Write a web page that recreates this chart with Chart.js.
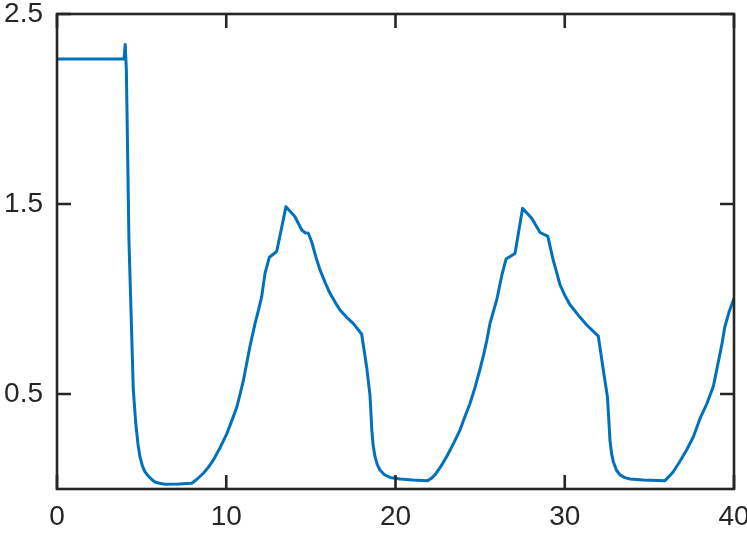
<!DOCTYPE html>
<html>
<head>
<meta charset="utf-8">
<script src="https://cdn.jsdelivr.net/npm/chart.js@4.4.0/dist/chart.umd.min.js"></script>
<style>
  html, body { margin: 0; padding: 0; background: #fff; }
</style>
</head>
<body>
<canvas id="lineChart" width="747" height="534"></canvas>
<script>
// values
const xs = [0, 3.96, 4.03, 4.1, 4.25, 4.51, 4.65, 4.78, 4.9, 5.05, 5.2, 5.38, 5.6, 5.79, 6.05, 6.38, 7.2, 7.96,
  8.25, 8.65, 8.95, 9.24, 9.65, 10.03, 10.33, 10.62, 10.82, 11.01, 11.4, 11.7, 11.9, 12.09, 12.29, 12.55, 12.98, 13.53,
  14.06, 14.46, 14.65, 14.85, 15.05, 15.3, 15.54, 15.85, 16.13, 16.42, 16.72, 17.1, 17.5, 18.0,
  18.3, 18.49, 18.55, 18.6, 18.68, 18.79, 18.92, 19.08, 19.35, 19.67, 20.27, 21.0, 21.9,
  22.1, 22.33, 22.65, 23.02, 23.4, 23.81, 24.1, 24.4, 24.7, 24.99, 25.2, 25.39, 25.58, 25.98, 26.27, 26.53, 27.06, 27.51,
  28.05, 28.54, 28.83, 29.0, 29.15, 29.32, 29.52, 29.72, 30.0, 30.31, 30.8, 31.3, 31.98,
  32.28, 32.52, 32.6, 32.67, 32.76, 32.87, 33.05, 33.26, 33.55, 33.86, 34.64, 35.92,
  36.15, 36.41, 36.8, 37.2, 37.6, 37.99, 38.4, 38.78, 39.1, 39.3, 39.45, 39.7, 40];
const ys = [2.263, 2.263, 2.34, 2.2, 1.31, 0.52, 0.35, 0.24, 0.17, 0.12, 0.09, 0.07, 0.05, 0.037, 0.03, 0.025, 0.026, 0.03,
  0.05, 0.083, 0.115, 0.153, 0.22, 0.29, 0.36, 0.43, 0.5, 0.57, 0.75, 0.87, 0.94, 1.01, 1.135, 1.22, 1.25, 1.486,
  1.433, 1.363, 1.349, 1.346, 1.3, 1.22, 1.153, 1.085, 1.03, 0.985, 0.942, 0.905, 0.872, 0.816,
  0.64, 0.495, 0.4, 0.31, 0.23, 0.17, 0.13, 0.1, 0.075, 0.061, 0.053, 0.048, 0.044,
  0.055, 0.074, 0.115, 0.17, 0.235, 0.31, 0.38, 0.45, 0.535, 0.63, 0.705, 0.78, 0.87, 0.995, 1.12, 1.21, 1.24, 1.477,
  1.425, 1.35, 1.337, 1.33, 1.27, 1.205, 1.14, 1.075, 1.02, 0.97, 0.915, 0.863, 0.805,
  0.626, 0.486, 0.37, 0.258, 0.19, 0.144, 0.1, 0.074, 0.06, 0.053, 0.047, 0.044,
  0.065, 0.091, 0.145, 0.205, 0.275, 0.37, 0.45, 0.54, 0.68, 0.77, 0.85, 0.93, 1.004];
const xTicks = [0, 10, 20, 30, 40];
const yTicks = [0.5, 1.5, 2.5];

const ink = '#262626';

// box round the plot with ticks pointing inwards, on all four sides
const frame = {
  id: 'frame',
  afterDatasetsDraw(chart) {
    const { ctx, chartArea: a, scales: { x, y } } = chart;
    const tl = 14;
    ctx.save();
    ctx.strokeStyle = ink;
    ctx.lineWidth = 2.6;
    ctx.beginPath();
    xTicks.forEach(v => {
      const px = x.getPixelForValue(v);
      ctx.moveTo(px, a.bottom); ctx.lineTo(px, a.bottom - tl);
      ctx.moveTo(px, a.top); ctx.lineTo(px, a.top + tl);
    });
    yTicks.forEach(v => {
      const py = y.getPixelForValue(v);
      ctx.moveTo(a.left, py); ctx.lineTo(a.left + tl, py);
      ctx.moveTo(a.right, py); ctx.lineTo(a.right - tl, py);
    });
    ctx.stroke();
    ctx.strokeRect(a.left, a.top, a.right - a.left, a.bottom - a.top);
    ctx.restore();
  }
};

new Chart(document.getElementById('lineChart'), {
  type: 'line',
  data: {
    datasets: [{
      data: xs.map((v, i) => ({ x: v, y: ys[i] })),
      borderColor: '#0072BD',
      borderWidth: 3,
      pointRadius: 0,
      tension: 0,
      borderJoinStyle: 'round',
      fill: false
    }]
  },
  options: {
    responsive: false,
    animation: false,
    layout: { padding: { left: 0, right: 13, top: 14, bottom: 0 } },
    plugins: { legend: { display: false }, tooltip: { enabled: false } },
    scales: {
      x: {
        type: 'linear',
        min: 0,
        max: 40,
        afterBuildTicks: s => { s.ticks = xTicks.map(v => ({ value: v })); },
        afterFit: s => { s.height = 45; s.paddingLeft = 0; s.paddingRight = 0; },
        grid: { display: false },
        border: { display: false },
        ticks: { color: ink, padding: 3, maxRotation: 0, font: { family: 'Liberation Sans', size: 28 } }
      },
      y: {
        min: 0,
        max: 2.5,
        afterBuildTicks: s => { s.ticks = yTicks.map(v => ({ value: v })); },
        afterFit: s => { s.width = 57; s.paddingTop = 0; s.paddingBottom = 0; },
        grid: { display: false },
        border: { display: false },
        ticks: { color: ink, padding: 6, font: { family: 'Liberation Sans', size: 28 } }
      }
    }
  },
  plugins: [frame]
});
</script>
</body>
</html>
